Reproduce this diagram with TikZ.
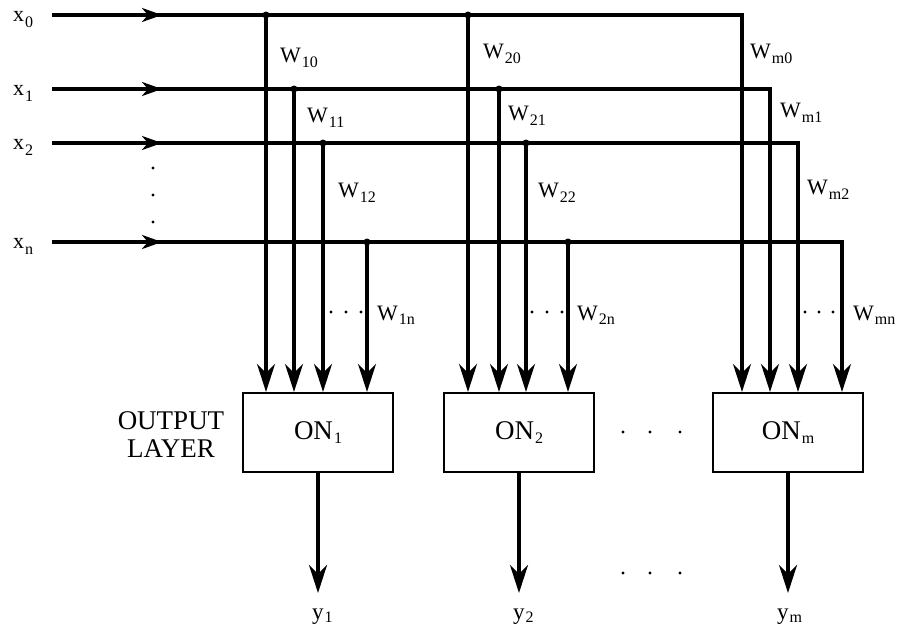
\documentclass[tikz,border=0pt]{standalone}
\usepackage{fontspec}
\setmainfont{Liberation Serif}
\usetikzlibrary{arrows.meta}
\newcommand\lbl[3]{#1\kern1pt\lower#3\hbox{\fontsize{16}{16}\selectfont #2}}
\begin{document}
\begin{tikzpicture}[x=1pt,y=-1pt,
  varr/.style={line width=3.4pt,-{Stealth[length=28pt,width=18pt,inset=9pt]}},
  harr/.style={line width=3.4pt,-{Stealth[length=20pt,width=14pt,inset=6pt]}},
  onbox/.style={draw,line width=2.2pt,minimum width=150pt,minimum height=79pt,inner sep=0pt,font=\fontsize{27}{29}\selectfont},
  wlab/.style={anchor=base west,inner sep=0pt,font=\fontsize{22}{24}\selectfont},
  xlab/.style={anchor=base west,inner sep=0pt,font=\fontsize{22}{24}\selectfont},
  ylab/.style={anchor=base west,inner sep=0pt,font=\fontsize{23}{24}\selectfont},
  junc/.style={circle,fill,inner sep=0pt,minimum size=7pt},
  sdot/.style={circle,fill,inner sep=0pt,minimum size=3.4pt}
]
\useasboundingbox (0,0) rectangle (899,632);

% output neurons
\node[onbox] (on1) at (318,432.5) {\lbl{ON}{1}{4pt}};
\node[onbox] (on2) at (519,432.5) {\lbl{ON}{2}{4pt}};
\node[onbox] (onm) at (788,432.5) {\lbl{ON}{m}{4pt}};
\node[align=center,inner sep=0pt,font=\fontsize{27}{28}\selectfont] (layer) at (171,435) {OUTPUT\\LAYER};

% inputs
\foreach \i/\yy/\xe/\xa/\xb in {0/15/742/266/468, 1/89/770/294/499, 2/143/798/323/526, n/242/842/367/568}{
  \node[xlab] (lx\i) at (13,\yy+6) {\lbl{x}{\i}{6pt}};
  \coordinate (s\i) at (52,\yy);
  \coordinate (h\i) at (162,\yy);
  \coordinate (e\i) at (\xe,\yy);
  \node[junc] (ja\i) at (\xa,\yy) {};
  \node[junc] (jb\i) at (\xb,\yy) {};
  \draw[varr] (s\i) -- (e\i) -- (e\i |- onm.north);
  \draw[harr] (s\i) -- (h\i);
  \draw[varr] (ja\i.center) -- (ja\i |- on1.north);
  \draw[varr] (jb\i.center) -- (jb\i |- on2.north);
}

% weight labels
\node[wlab] (w10) at (280,62) {\lbl{W}{10}{5pt}};
\node[wlab] (w11) at (307,122) {\lbl{W}{11}{5pt}};
\node[wlab] (w12) at (338,197) {\lbl{W}{12}{5pt}};
\node[wlab] (w1n) at (377,320) {\lbl{W}{1n}{4pt}};
\node[wlab] (w20) at (483,58) {\lbl{W}{20}{5pt}};
\node[wlab] (w21) at (508,120) {\lbl{W}{21}{5pt}};
\node[wlab] (w22) at (538,197) {\lbl{W}{22}{5pt}};
\node[wlab] (w2n) at (577,320) {\lbl{W}{2n}{4pt}};
\node[wlab] (wm0) at (750,58) {\lbl{W}{m0}{5pt}};
\node[wlab] (wm1) at (780,117) {\lbl{W}{m1}{5pt}};
\node[wlab] (wm2) at (807,194) {\lbl{W}{m2}{5pt}};
\node[wlab] (wmn) at (853,320) {\lbl{W}{mn}{4pt}};

% small dots
\foreach \px/\py in {153/168,153/195,153/222,
  331/312,346/312,361/312, 532/312,547/312,562/312, 805/312,819/312,833/312,
  623/432,650/432,680/432, 623/573,650/573,680/573}{
  \node[sdot] at (\px,\py) {};
}

% outputs
\coordinate (o1) at (318,593);
\coordinate (o2) at (519,593);
\coordinate (om) at (788,593);
\draw[varr] (on1.south) -- (o1);
\draw[varr] (on2.south) -- (o2);
\draw[varr] (onm.south) -- (om);
\node[ylab] (y1) at (312,619) {\lbl{y}{1}{3pt}};
\node[ylab] (y2) at (513,619) {\lbl{y}{2}{3pt}};
\node[ylab] (ym) at (777,619) {\lbl{y}{m}{3pt}};
\end{tikzpicture}
\end{document}
